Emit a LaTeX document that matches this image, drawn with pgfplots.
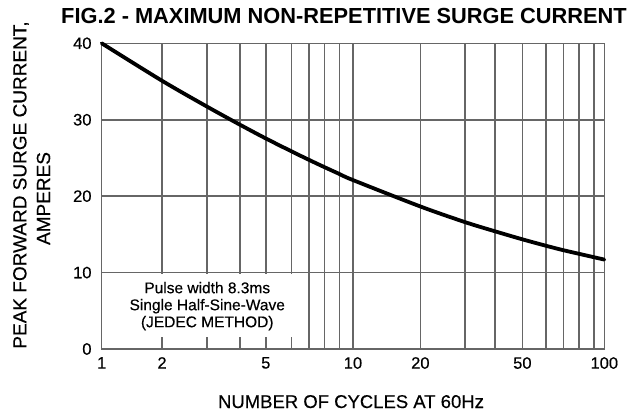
\documentclass[border=0pt]{standalone}
\usepackage{fontspec}
\setmainfont{Liberation Sans}[UprightFeatures={FakeBold=0.35}]
\usepackage{pgfplots}
\usepackage{pgfplotstable}
\pgfplotsset{compat=1.18}

% cycles, position on the (hand drawn) log grid in decades, peak amperes
\pgfplotstableread{
n   pos    amps
1   0.000  40.0
2   0.240  35.1
3   0.420  31.7
4   0.550  29.35
5   0.653  27.55
6   0.756  25.85
7   0.826  24.73
8   0.886  23.8
9   0.946  22.9
10  1.000  22.1
20  1.268  18.65
30  1.446  16.6
40  1.565  15.4
50  1.674  14.35
60  1.769  13.5
70  1.838  12.92
80  1.900  12.45
90  1.960  12.0
100 2.000  11.7
}\surge

\definecolor{gridgray}{gray}{0.4}

\begin{document}
\begin{tikzpicture}
\begin{axis}[
  scale only axis,
  width=502.6bp, height=305.7bp,
  xmin=0, xmax=2, ymin=0, ymax=40,
  xtick={0,0.24,0.42,0.55,0.653,0.756,0.826,0.886,0.946,1,1.268,1.446,1.565,1.674,1.769,1.838,1.9,1.96,2},
  xticklabels={1,2,,,5,,,,,10,20,,,50,,,,,100},
  ytick={0,10,20,30,40},
  grid=major,
  major grid style={gridgray, line width=1.6bp},
  axis line style={gridgray, line width=1.6bp},
  major tick length=0pt,
  /pgf/number format/assume math mode=true,
  xticklabel style={font=\fontsize{16.5bp}{18bp}\selectfont, inner sep=0pt, anchor=north, yshift=-8bp},
  yticklabel style={font=\fontsize{16.5bp}{18bp}\selectfont, inner sep=0pt, anchor=east, xshift=-10bp},
  clip=false,
]
\fill[white] (axis cs:0.015,1.6) rectangle (axis cs:0.785,9.8);
\node[align=center, font=\fontsize{15.5bp}{17bp}\selectfont] at (axis cs:0.42,5.6)
  {Pulse width 8.3ms\\Single Half-Sine-Wave\\(JEDEC METHOD)};
\addplot[black, line width=3.8bp, smooth, line cap=round] table[x=pos, y=amps] {\surge};
\end{axis}
% fix the page to the reference proportions
\path (current axis.south west) ++(-101.7bp,-66bp) rectangle ++(644bp,415bp);
\node[anchor=base, font=\bfseries\fontsize{21.8bp}{24bp}\selectfont]
  at ([xshift=242.3bp, yshift=325bp]current axis.south west)
  {FIG.2 - MAXIMUM NON-REPETITIVE SURGE CURRENT};
\node[rotate=90, font=\fontsize{19bp}{21bp}\selectfont]
  at ([xshift=-80.7bp, yshift=164bp]current axis.south west)
  {PEAK FORWARD SURGE CURRENT,};
\node[rotate=90, font=\fontsize{19bp}{21bp}\selectfont]
  at ([xshift=-58.2bp, yshift=150.5bp]current axis.south west)
  {AMPERES};
\node[anchor=base, font=\fontsize{18.5bp}{20bp}\selectfont]
  at ([xshift=249.3bp, yshift=-59bp]current axis.south west)
  {NUMBER OF CYCLES AT 60Hz};
\end{tikzpicture}
\end{document}
